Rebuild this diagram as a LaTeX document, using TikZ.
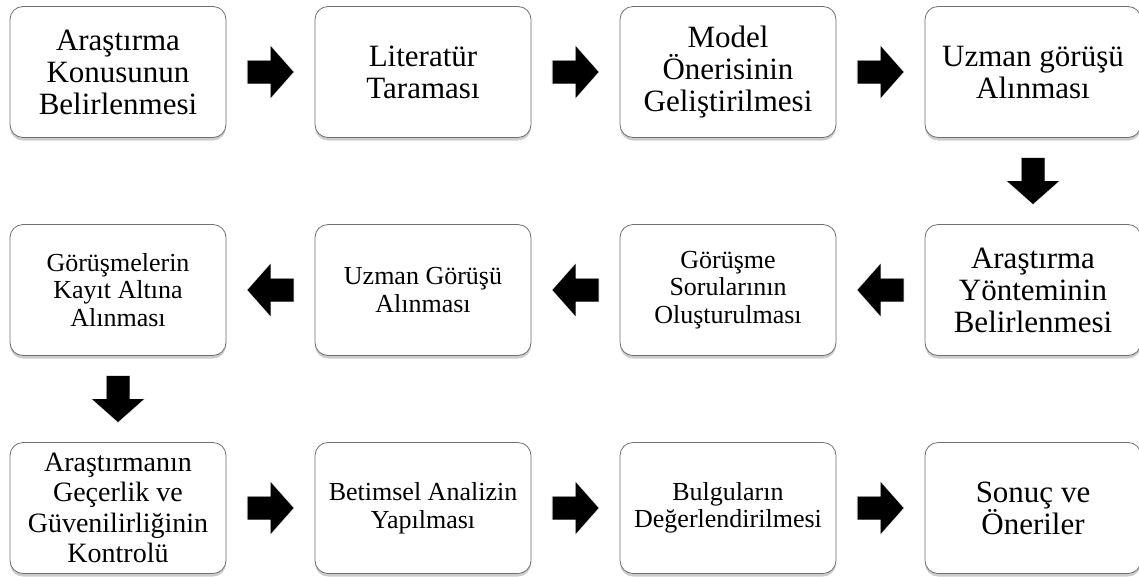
\documentclass[tikz,border=0pt]{standalone}
\usepackage{fontspec}
\setmainfont{Liberation Serif}
\usepackage{xcolor}
\usepackage{tikz}
\usetikzlibrary{shadows,calc}
\definecolor{FlowEdge}{HTML}{707070}
\definecolor{FlowInk}{HTML}{000000}

\begin{document}
\begin{tikzpicture}[x=1pt,y=-1pt,
    stepbox/.style={draw=FlowEdge,line width=0.8pt,fill=white,rounded corners=13pt,minimum width=216pt,minimum height=131pt,align=center,inner sep=2pt,drop shadow={shadow xshift=0pt,shadow yshift=-3pt,opacity=.4}},
    bigtext/.style={font=\fontsize{31}{32}\selectfont},
    midtext/.style={font=\fontsize{28}{30.5}\selectfont},
    smalltext/.style={font=\fontsize{26}{27.5}\selectfont},
    blockarrow/.pic={\fill[FlowInk,drop shadow={shadow xshift=0pt,shadow yshift=0pt,shadow scale=1.04,opacity=.25}] (-23pt,-11.5pt) -- (0pt,-11.5pt) -- (0pt,-26pt) -- (23pt,0pt) -- (0pt,26pt) -- (0pt,11.5pt) -- (-23pt,11.5pt) -- cycle;}]
    \useasboundingbox (0,0) rectangle (1139,576);
    \fill[white] (0,0) rectangle (1139,576);
    \node[stepbox,bigtext] (r1c1) at (118,72) {Araştırma\\Konusunun\\Belirlenmesi};
    \node[stepbox,bigtext] (r1c2) at (423,72) {Literatür\\Taraması};
    \node[stepbox,bigtext] (r1c3) at (728,72) {Model\\Önerisinin\\Geliştirilmesi};
    \node[stepbox,bigtext] (r1c4) at (1033,72) {Uzman görüşü\\Alınması};
    \node[stepbox,bigtext] (r2c4) at (1033,290) {Araştırma\\Yönteminin\\Belirlenmesi};
    \node[stepbox,smalltext] (r2c3) at (728,290) {Görüşme\\Sorularının\\Oluşturulması};
    \node[stepbox,smalltext] (r2c2) at (423,290) {Uzman Görüşü\\Alınması};
    \node[stepbox,smalltext] (r2c1) at (118,290) {Görüşmelerin\\Kayıt Altına\\Alınması};
    \node[stepbox,midtext] (r3c1) at (118,508) {Araştırmanın\\Geçerlik ve\\Güvenilirliğinin\\Kontrolü};
    \node[stepbox,smalltext] (r3c2) at (423,508) {Betimsel Analizin\\Yapılması};
    \node[stepbox,smalltext] (r3c3) at (728,508) {Bulguların\\Değerlendirilmesi};
    \node[stepbox,bigtext] (r3c4) at (1033,508) {Sonuç ve\\Öneriler};
    \foreach \a/\b/\r in {r1c1/r1c2/0,r1c2/r1c3/0,r1c3/r1c4/0,r1c4/r2c4/-90,r2c4/r2c3/180,r2c3/r2c2/180,r2c2/r2c1/180,r2c1/r3c1/-90,r3c1/r3c2/0,r3c2/r3c3/0,r3c3/r3c4/0} {
      \pic[rotate=\r] at ($(\a)!0.5!(\b)$) {blockarrow};
    }
\end{tikzpicture}
\end{document}
